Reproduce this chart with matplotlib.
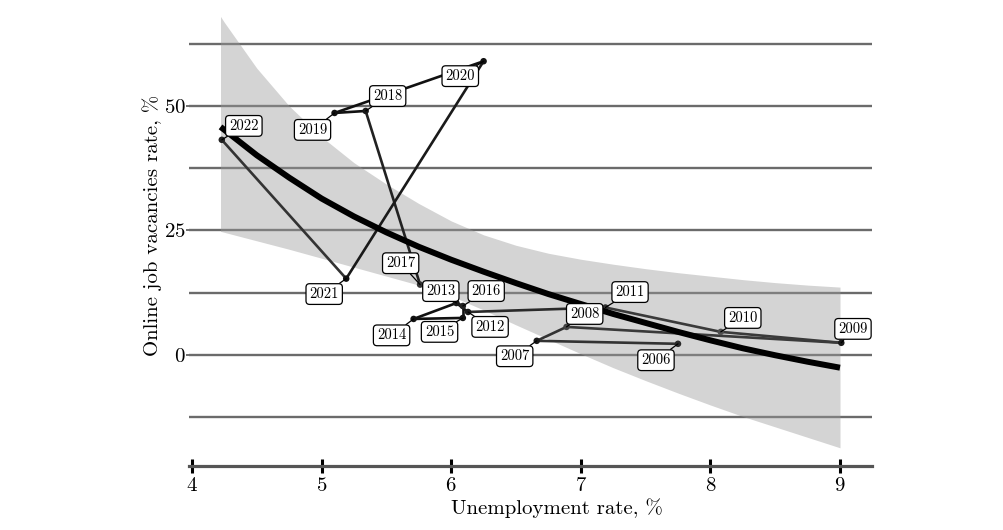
import matplotlib
matplotlib.use('Agg')
import matplotlib.pyplot as plt
from matplotlib.ticker import FixedLocator, MultipleLocator

plt.rcParams['font.family'] = ['cmr10', 'DejaVu Serif']
plt.rcParams['axes.formatter.use_mathtext'] = True
plt.rcParams['mathtext.fontset'] = 'cm'

# ---- data -------------------------------------------------------------
years = [2006, 2007, 2008, 2009, 2010, 2011, 2012, 2013, 2014,
         2015, 2016, 2017, 2018, 2019, 2020, 2021, 2022]
unemployment = [7.75, 6.66, 6.89, 9.01, 8.08, 7.19, 6.13, 6.04, 5.71,
                6.09, 6.09, 5.76, 5.34, 5.10, 6.25, 5.19, 4.23]
vacancies = [2.2, 2.8, 5.6, 2.4, 4.6, 9.5, 8.6, 10.4, 7.2,
             7.4, 9.8, 14.1, 49.0, 48.6, 59.0, 15.3, 43.2]

fit_x = [4.22, 4.25, 4.5, 4.75, 5.0, 5.25, 5.5, 5.75, 6.0, 6.25, 6.5,
         6.75, 7.0, 7.25, 7.5, 7.75, 8.0, 8.25, 8.5, 8.75, 9.0]
fit_y = [45.8, 45.2, 40.1, 35.6, 31.4, 27.8, 24.6, 21.7, 19.1, 16.7, 14.4,
         12.2, 10.2, 8.2, 6.4, 4.6, 2.9, 1.3, -0.1, -1.4, -2.6]
band_upper = [68.0, 66.8, 57.6, 50.0, 43.8, 38.6, 34.3, 30.4, 26.9, 24.1, 22.0,
              20.4, 19.2, 18.2, 17.3, 16.5, 15.8, 15.1, 14.5, 14.0, 13.6]
band_lower = [24.8, 24.6, 22.9, 21.2, 19.4, 17.6, 15.8, 14.0, 11.8, 9.0, 6.0,
              3.1, 0.2, -2.6, -5.2, -7.7, -10.1, -12.4, -14.5, -16.6, -18.7]

# label placement (data coords) for each year's tag
label_x = [7.58, 6.49, 7.03, 9.10, 8.25, 7.38, 6.30, 5.92, 5.54,
           5.91, 6.27, 5.61, 5.51, 4.93, 6.07, 5.02, 4.40]
label_y = [-1.1, -0.3, 8.2, 5.2, 7.4, 12.6, 5.6, 12.8, 3.9,
           4.6, 12.8, 18.4, 52.0, 45.2, 56.0, 12.2, 46.0]

seg_colors = ['#333333', '#333333', '#3a3a3a', '#3a3a3a', '#3a3a3a', '#2a2a2a',
              '#111111', '#111111', '#111111', '#111111', '#222222', '#222222',
              '#111111', '#111111', '#1a1a1a', '#333333']
pt_colors = ['#2a2a2a', '#1a1a1a', '#444444', '#1a1a1a', '#505050', '#333333',
             '#1a1a1a', '#1a1a1a', '#111111', '#111111', '#222222', '#333333',
             '#1a1a1a', '#111111', '#111111', '#111111', '#222222']

# ---- figure -------------------------------------------------------------
fig = plt.figure(figsize=(10.04, 5.30), dpi=100)
ax = fig.add_axes([189.4 / 1004, 64 / 530, 683 / 1004, 461 / 530])
ax.set_xlim(3.98, 9.25)
ax.set_ylim(-22.36, 70.3)

for s in ['top', 'right', 'left']:
    ax.spines[s].set_visible(False)
ax.spines['bottom'].set_color('#555555')
ax.spines['bottom'].set_linewidth(2.3)

ax.xaxis.set_major_locator(FixedLocator([4, 5, 6, 7, 8, 9]))
ax.yaxis.set_major_locator(FixedLocator([0, 25, 50]))
ax.yaxis.set_minor_locator(MultipleLocator(12.5))
ax.tick_params(axis='x', direction='inout', length=10, width=2.2, color='black',
               labelsize=15, pad=3)
ax.tick_params(axis='y', which='major', length=2, width=1.2, color='#555555',
               labelsize=15, pad=0.5)
ax.tick_params(axis='y', which='minor', length=0)
ax.grid(axis='y', which='both', color='#6b6b6b', linewidth=1.7, zorder=0)
ax.set_axisbelow(True)

ax.fill_between(fit_x, band_lower, band_upper, color='#999999', alpha=0.42,
                linewidth=0, zorder=1)

for i in range(len(years) - 1):
    ax.plot(unemployment[i:i + 2], vacancies[i:i + 2], color=seg_colors[i],
            linewidth=1.9, solid_capstyle='round', zorder=2)
ax.scatter(unemployment, vacancies, s=22, c=pt_colors, zorder=2.5, linewidths=0)

ax.plot(fit_x, fit_y, color='black', linewidth=4.3, solid_capstyle='butt', zorder=3)

for yr, ux, vy, lx, ly in zip(years, unemployment, vacancies, label_x, label_y):
    ax.annotate(str(yr), xy=(ux, vy), xytext=(lx, ly), textcoords='data',
                ha='center', va='center', fontsize=10.5, zorder=5,
                bbox=dict(boxstyle='round,pad=0.24,rounding_size=0.25',
                          fc='white', ec='black', lw=0.9),
                arrowprops=dict(arrowstyle='-', color='black', lw=0.9,
                                shrinkA=0, shrinkB=0))

fig.text(557 / 1004, 1 - 508 / 530, 'Unemployment rate, %', ha='center',
         va='center', fontsize=15)
fig.text(152 / 1004, 1 - 225 / 530, 'Online job vacancies rate, %', ha='center',
         va='center', rotation=90, fontsize=15)

fig.savefig('out.png', dpi=100)
